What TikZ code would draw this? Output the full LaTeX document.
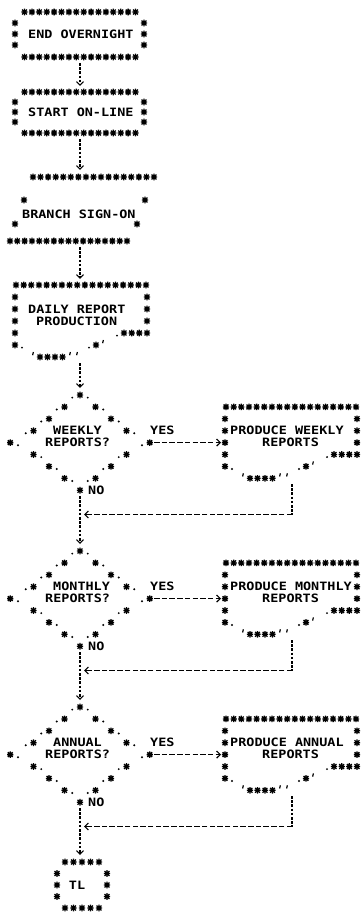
\documentclass[tikz,border=0pt]{standalone}
\usepackage{fontspec}
\newfontfamily\asciifont{DejaVu Sans Mono}[FakeStretch=1.17]
\usetikzlibrary{arrows.meta}
\tikzset{
  ast/.pic={\fill (0,0) circle (1.9);
    \draw[line width=1.3pt] (-3.1,0)--(3.1,0) (0,-3.3)--(0,3.3)
      (-2.4,-2.4)--(2.4,2.4) (-2.4,2.4)--(2.4,-2.4);},
  lbl/.style={font=\asciifont\bfseries\fontsize{11.5}{12}\selectfont, inner sep=0pt, anchor=west},
  vline/.style={line width=1.1pt, dash pattern=on 2.6pt off 1.6pt},
  hline/.style={line width=1.1pt, dash pattern=on 5.5pt off 2.2pt},
  tipd/.style={-{Straight Barb[length=3.6pt,width=7pt]}}
}
\newcommand\sstar[2]{\pic at ({#1},{#2}) {ast};}
\newcommand\sdot[2]{\fill ({#1},{#2+2.6}) circle (1.1);}
\newcommand\sapo[2]{\draw[line width=1.2pt] ({#1+0.4},{#2-5}) -- ({#1-0.4},{#2-1.8});}
\newcommand\srow[4]{\foreach \i in {0,...,#3} {\pic at ({#1+#2*\i},{#4}) {ast};}}
% diamond with centre column at x=80, top row at #1
\newcommand\sdiamond[1]{%
  \foreach \c/\k in {0/0,-2/1,2/1,-4/2,4/2,-6/3,6/3,-9/4,9/4,-6/5,6/5,-4/6,4/6,-2/7,2/7,0/8}
    {\pic at ({80+7.75*\c},{#1+11.9*\k}) {ast};}
  \foreach \c/\k in {-1/0,1/0,-3/1,3/1,-5/2,5/2,-7/3,7/3,-8/4,8/4,-5/5,5/5,-3/6,3/6,-1/7,1/7}
    {\fill ({80+7.75*\c},{#1+11.9*\k+2.6}) circle (1.1);}
}
% document shape: left side x=#1, top row y=#2, row pitch #3
\newcommand\sdoc[3]{%
  \srow{#1+1}{7.65}{17}{#2}
  \foreach \t in {1,...,5} {\pic at ({#1},{#2+#3*\t}) {ast};}
  \foreach \t in {1,...,3} {\pic at ({#1+132},{#2+#3*\t}) {ast};}
  \sdot{#1+102}{#2+#3*4}
  \srow{#1+109}{7.67}{3}{#2+#3*4}
  \sdot{#1+7}{#2+#3*5}
  \sdot{#1+74}{#2+#3*5}
  \sstar{#1+81}{#2+#3*5}
  \sapo{#1+88}{#2+#3*5}
  \sapo{#1+18}{#2+#3*6}
  \srow{#1+25}{7.5}{3}{#2+#3*6}
  \sapo{#1+55}{#2+#3*6}
  \sapo{#1+62}{#2+#3*6}
}
\begin{document}
\begin{tikzpicture}[x=1pt,y=-1pt]
\useasboundingbox (0,0) rectangle (362,915);

% ---- END OVERNIGHT
\srow{24.5}{7.4}{15}{12}
\foreach \y in {23,34,45} {\sstar{15}{\y}\sstar{144}{\y}}
\srow{24.5}{7.4}{15}{57}
\node[lbl] (endon) at (28,34) {END OVERNIGHT};
\coordinate (endS) at (80,63);

% ---- START ON-LINE
\srow{24.5}{7.4}{15}{92}
\foreach \y in {102,112,122} {\sstar{15}{\y}\sstar{144}{\y}}
\srow{24.5}{7.4}{15}{133}
\node[lbl] (start) at (28,112) {START ON-LINE};
\coordinate (startN) at (80,86);
\coordinate (startS) at (80,139);

% ---- BRANCH SIGN-ON
\srow{33}{7.5625}{16}{177}
\sstar{24}{200}\sstar{145}{200}
\sstar{15}{224}\sstar{137}{224}
\srow{10}{7.3125}{16}{241}
\node[lbl] (branch) at (22,214) {BRANCH SIGN-ON};
\coordinate (branchN) at (80,170);
\coordinate (branchS) at (80,247);

% ---- DAILY REPORT PRODUCTION
\sdoc{15}{285}{12}
\node[lbl] (daily1) at (28,309) {DAILY REPORT};
\node[lbl] (daily2) at (36,321) {PRODUCTION};
\coordinate (dailyN) at (80,279);
\coordinate (dailyS) at (80,363);

\draw[vline,tipd] (endS) -- (startN);
\draw[vline,tipd] (startS) -- (branchN);
\draw[vline,tipd] (branchS) -- (dailyN);

% ---- WEEKLY
\coordinate (q1N) at (80,388);
\draw[vline,tipd] (dailyS) -- (q1N);
\sdiamond{395}
\node[lbl] (q1a) at (53,430.7) {WEEKLY};
\node[lbl] (q1b) at (45,442.6) {REPORTS?};
\node[lbl] (q1y) at (150,430.7) {YES};
\node[lbl] (q1n) at (88,490.2) {NO};
\sdoc{225}{406.9}{11.9}
\node[lbl] (p1a) at (230,430.7) {PRODUCE WEEKLY};
\node[lbl] (p1b) at (262,442.6) {REPORTS};
\coordinate (q1E) at (154,442.6);
\coordinate (p1W) at (221,442.6);
\coordinate (p1S) at (292,484);
\coordinate (m1) at (292,514.5);
\coordinate (j1) at (84,514.5);
\coordinate (q1S) at (80,496);
\coordinate (q2N) at (80,544);
\draw[hline,tipd] (q1E) -- (p1W);
\draw[vline] (p1S) -- (m1);
\draw[hline,tipd] (m1) -- (j1);
\draw[vline,tipd] (q1S) -- (q2N);

% ---- MONTHLY
\sdiamond{551}
\node[lbl] (q2a) at (53,586.7) {MONTHLY};
\node[lbl] (q2b) at (45,598.6) {REPORTS?};
\node[lbl] (q2y) at (150,586.7) {YES};
\node[lbl] (q2n) at (88,646.2) {NO};
\sdoc{225}{562.9}{11.9}
\node[lbl] (p2a) at (230,586.7) {PRODUCE MONTHLY};
\node[lbl] (p2b) at (262,598.6) {REPORTS};
\coordinate (q2E) at (154,598.6);
\coordinate (p2W) at (221,598.6);
\coordinate (p2S) at (292,640);
\coordinate (m2) at (292,670.5);
\coordinate (j2) at (84,670.5);
\coordinate (q2S) at (80,652);
\coordinate (q3N) at (80,700);
\draw[hline,tipd] (q2E) -- (p2W);
\draw[vline] (p2S) -- (m2);
\draw[hline,tipd] (m2) -- (j2);
\draw[vline,tipd] (q2S) -- (q3N);

% ---- ANNUAL
\sdiamond{707}
\node[lbl] (q3a) at (53,742.7) {ANNUAL};
\node[lbl] (q3b) at (45,754.6) {REPORTS?};
\node[lbl] (q3y) at (150,742.7) {YES};
\node[lbl] (q3n) at (88,802.2) {NO};
\sdoc{225}{718.9}{11.9}
\node[lbl] (p3a) at (230,742.7) {PRODUCE ANNUAL};
\node[lbl] (p3b) at (262,754.6) {REPORTS};
\coordinate (q3E) at (154,754.6);
\coordinate (p3W) at (221,754.6);
\coordinate (p3S) at (292,796);
\coordinate (m3) at (292,826.5);
\coordinate (j3) at (84,826.5);
\coordinate (q3S) at (80,808);
\coordinate (tlN) at (80,855);
\draw[hline,tipd] (q3E) -- (p3W);
\draw[vline] (p3S) -- (m3);
\draw[hline,tipd] (m3) -- (j3);
\draw[vline,tipd] (q3S) -- (tlN);

% ---- TL
\srow{65}{8.5}{4}{862}
\foreach \y in {873.5,885,896.5} {\sstar{57}{\y}\sstar{107}{\y}}
\srow{65}{8.5}{4}{908}
\node[lbl,anchor=center] (tl) at (77,885) {TL};
\end{tikzpicture}
\end{document}
